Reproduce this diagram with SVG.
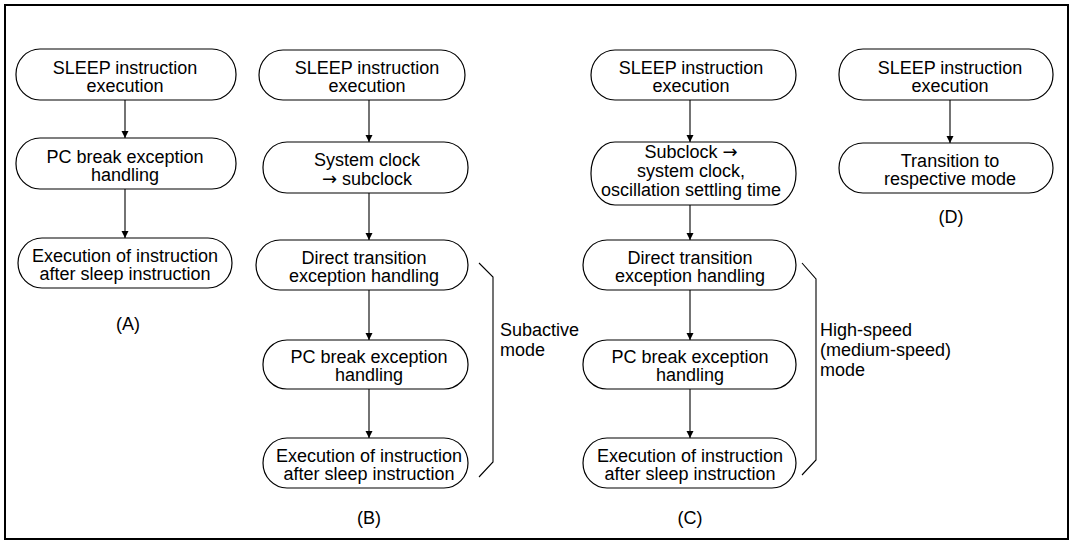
<svg xmlns="http://www.w3.org/2000/svg" width="1072" height="543" viewBox="0 0 1072 543">
<style>
.n{fill:#fff;stroke:#000;stroke-width:1.2}
.t{font-family:"Liberation Sans",Arial,sans-serif;font-size:18px;fill:#000;text-anchor:middle}
.l{font-family:"Liberation Sans",Arial,sans-serif;font-size:18px;fill:#000}
.c{stroke:#000;stroke-width:1.1;fill:none}
.ar{font-family:"DejaVu Sans",sans-serif}
</style>
<defs>
<marker id="ah" markerWidth="7" markerHeight="12" refX="7" refY="6" orient="auto" markerUnits="userSpaceOnUse">
<path d="M0,2.5 L7,6 L0,9.5 Z" fill="#000"/>
</marker>
</defs>
<rect x="5" y="5" width="1063" height="534" fill="#fff" stroke="#000" stroke-width="2"/>
<g id="connectors">
<line class="c" x1="125" y1="100" x2="125" y2="138" marker-end="url(#ah)"/>
<line class="c" x1="125" y1="189" x2="125" y2="238" marker-end="url(#ah)"/>
<line class="c" x1="369" y1="100" x2="369" y2="142" marker-end="url(#ah)"/>
<line class="c" x1="369" y1="193" x2="369" y2="240" marker-end="url(#ah)"/>
<line class="c" x1="369" y1="290" x2="369" y2="340" marker-end="url(#ah)"/>
<line class="c" x1="369" y1="389" x2="369" y2="438" marker-end="url(#ah)"/>
<line class="c" x1="690" y1="100" x2="690" y2="142" marker-end="url(#ah)"/>
<line class="c" x1="690" y1="205" x2="690" y2="240" marker-end="url(#ah)"/>
<line class="c" x1="690" y1="290" x2="690" y2="340" marker-end="url(#ah)"/>
<line class="c" x1="690" y1="389" x2="690" y2="438" marker-end="url(#ah)"/>
<line class="c" x1="950" y1="100" x2="950" y2="143" marker-end="url(#ah)"/>
<polyline class="c" points="479,263 493,277 493,462 479,477"/>
<polyline class="c" points="802,263 816,279 816,460 802,475"/>
</g>
<g id="A1"><rect class="n" x="16" y="49" width="220" height="51" rx="24" ry="25"/><text class="t" x="125" y="74">SLEEP instruction</text><text class="t" x="125" y="92">execution</text></g>
<g id="A2"><rect class="n" x="16" y="138" width="220" height="51" rx="24" ry="25"/><text class="t" x="125" y="163">PC break exception</text><text class="t" x="125" y="181">handling</text></g>
<g id="A3"><rect class="n" x="18" y="238" width="214" height="50" rx="24" ry="25"/><text class="t" x="125" y="262">Execution of instruction</text><text class="t" x="125" y="280">after sleep instruction</text></g>
<text id="labelA" class="t" x="128" y="330">(A)</text>
<g id="B1"><rect class="n" x="259" y="50" width="206" height="50" rx="24" ry="25"/><text class="t" x="367" y="74">SLEEP instruction</text><text class="t" x="367" y="92">execution</text></g>
<g id="B2"><rect class="n" x="263" y="142" width="205" height="51" rx="24" ry="25"/><text class="t" x="367" y="166">System clock</text><text class="t" x="367" y="185"><tspan class="ar">→</tspan> subclock</text></g>
<g id="B3"><rect class="n" x="256" y="240" width="212" height="50" rx="24" ry="25"/><text class="t" x="364" y="264">Direct transition</text><text class="t" x="364" y="282">exception handling</text></g>
<g id="B4"><rect class="n" x="263" y="340" width="205" height="49" rx="24" ry="24"/><text class="t" x="369" y="363">PC break exception</text><text class="t" x="369" y="381">handling</text></g>
<g id="B5"><rect class="n" x="263" y="438" width="205" height="50" rx="24" ry="25"/><text class="t" x="369" y="462">Execution of instruction</text><text class="t" x="369" y="480">after sleep instruction</text></g>
<text id="labelB" class="t" x="369" y="524">(B)</text>
<text id="subactive" class="l" x="500" y="336">Subactive<tspan x="500" dy="20">mode</tspan></text>
<g id="C1"><rect class="n" x="591" y="50" width="205" height="50" rx="24" ry="25"/><text class="t" x="691" y="74">SLEEP instruction</text><text class="t" x="691" y="92">execution</text></g>
<g id="C2"><rect class="n" x="591" y="142" width="205" height="63" rx="24" ry="31"/><text class="t" x="691" y="158">Subclock <tspan class="ar">→</tspan></text><text class="t" x="691" y="177">system clock,</text><text class="t" x="691" y="196">oscillation settling time</text></g>
<g id="C3"><rect class="n" x="583" y="240" width="213" height="50" rx="24" ry="25"/><text class="t" x="690" y="264">Direct transition</text><text class="t" x="690" y="282">exception handling</text></g>
<g id="C4"><rect class="n" x="583" y="340" width="213" height="49" rx="24" ry="24"/><text class="t" x="690" y="363">PC break exception</text><text class="t" x="690" y="381">handling</text></g>
<g id="C5"><rect class="n" x="583" y="438" width="213" height="50" rx="24" ry="25"/><text class="t" x="690" y="462">Execution of instruction</text><text class="t" x="690" y="480">after sleep instruction</text></g>
<text id="labelC" class="t" x="690" y="524">(C)</text>
<text id="highspeed" class="l" x="820" y="336">High-speed<tspan x="820" dy="20">(medium-speed)</tspan><tspan x="820" dy="20">mode</tspan></text>
<g id="D1"><rect class="n" x="839" y="49" width="214" height="51" rx="24" ry="25"/><text class="t" x="950" y="74">SLEEP instruction</text><text class="t" x="950" y="92">execution</text></g>
<g id="D2"><rect class="n" x="839" y="143" width="214" height="50" rx="24" ry="25"/><text class="t" x="950" y="167">Transition to</text><text class="t" x="950" y="185">respective mode</text></g>
<text id="labelD" class="t" x="951" y="223">(D)</text>
</svg>
